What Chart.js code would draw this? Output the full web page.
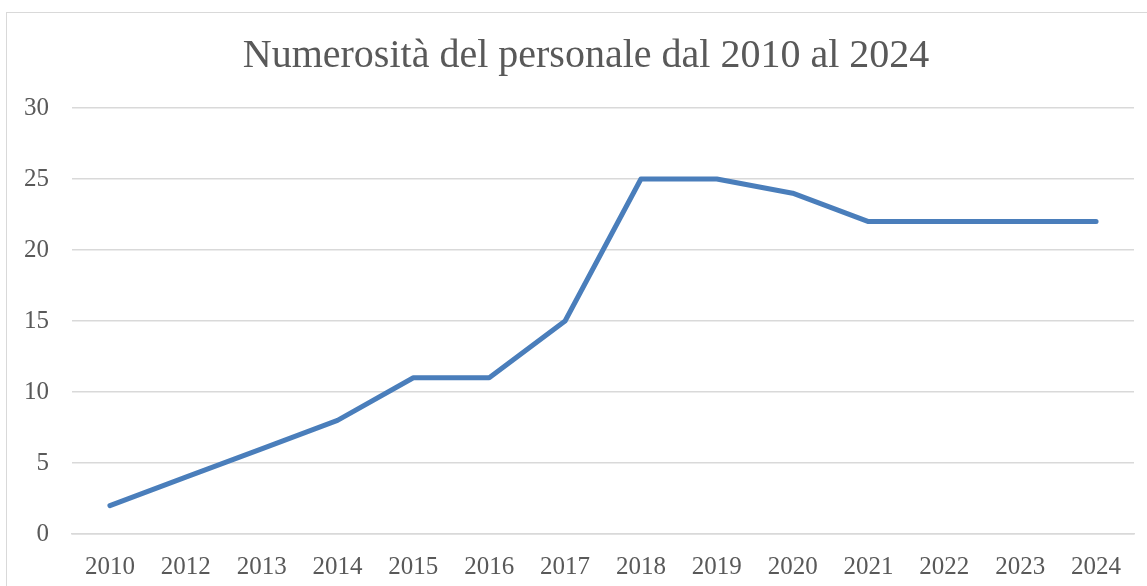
<!DOCTYPE html>
<html>
<head>
<meta charset="utf-8">
<script src="https://cdn.jsdelivr.net/npm/chart.js@4"></script>
<style>
    html, body { margin: 0; padding: 0; background: #fff; overflow: hidden; }
    #wrap { position: relative; width: 1147px; height: 586px; }
    #frame {
        position: absolute; left: 6px; top: 12px; width: 1160px; height: 600px;
        border: 1px solid #d9d9d9; box-sizing: border-box; pointer-events: none;
    }
</style>
</head>
<body>
<div id="wrap">
    <canvas id="staffChart" width="1147" height="586"></canvas>
    <div id="frame"></div>
</div>
<script>
const years = ['2010', '2012', '2013', '2014', '2015', '2016', '2017', '2018', '2019', '2020', '2021', '2022', '2023', '2024'];
const staffCount = [2, 4, 6, 8, 11, 11, 15, 25, 25, 24, 22, 22, 22, 22];
const yTicks = [0, 5, 10, 15, 20, 25, 30];
const chartTitle = 'Numerosità del personale dal 2010 al 2024';

const textColor = '#595959';
const gridColor = '#d9d9d9';

// title drawn by hand: the original sits a bit right of the plot centre
const titlePlugin = {
    id: 'offsetTitle',
    afterDraw(chart) {
        const c = chart.ctx;
        c.save();
        c.font = '40px "Liberation Serif"';
        c.fillStyle = textColor;
        c.textAlign = 'center';
        c.textBaseline = 'middle';
        c.fillText(chartTitle, 586, 56);
        c.restore();
    }
};

const ctx = document.getElementById('staffChart').getContext('2d');
const staffChart = new Chart(ctx, {
    type: 'line',
    data: {
        labels: years,
        datasets: [{
            label: 'Personale',
            data: staffCount,
            borderColor: '#4a7ebb',
            borderWidth: 5,
            borderCapStyle: 'round',
            borderJoinStyle: 'round',
            pointRadius: 0,
            tension: 0,
            fill: false
        }]
    },
    options: {
        responsive: false,
        animation: false,
        layout: { padding: { left: 6, right: 13, top: 108, bottom: 0 } },
        plugins: {
            legend: { display: false },
            tooltip: { enabled: false },
            title: { display: false }
        },
        scales: {
            x: {
                offset: true,
                grid: { display: false, drawTicks: false },
                border: { color: gridColor, width: 1.5 },
                ticks: {
                    color: textColor,
                    font: { family: 'Liberation Serif', size: 25 },
                    maxRotation: 0,
                    autoSkip: false,
                    padding: 18
                },
                afterFit: (scale) => { scale.height = 52; }
            },
            y: {
                min: 0,
                max: 30,
                afterBuildTicks: (scale) => { scale.ticks = yTicks.map(v => ({ value: v })); },
                grid: { color: gridColor, lineWidth: 1.5, drawTicks: false },
                border: { display: false },
                ticks: {
                    color: textColor,
                    font: { family: 'Liberation Serif', size: 25 },
                    padding: 23
                },
                afterFit: (scale) => { scale.width = 66; }
            }
        }
    },
    plugins: [titlePlugin]
});
</script>
</body>
</html>
